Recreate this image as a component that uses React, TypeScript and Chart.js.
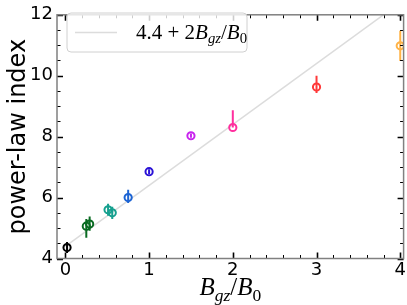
import { useEffect, useRef } from 'react';
import { Chart, registerables } from 'chart.js';
Chart.register(...registerables);

// ---- data ----
const bRatio = [0.02, 0.25, 0.29, 0.51, 0.56, 0.75, 1.0, 1.5, 2.0, 3.0, 4.0];
const powerIndex = [4.36, 5.06, 5.13, 5.6, 5.5, 6.0, 6.85, 8.03, 8.3, 9.63, 10.98];
const errLow = [0.18, 0.38, 0.22, 0.2, 0.2, 0.18, 0.08, 0.07, 0.0, 0.2, 0.5];
const errHigh = [0.18, 0.24, 0.25, 0.2, 0.2, 0.26, 0.08, 0.07, 0.57, 0.37, 0.5];
const pointColors = ['#000000', '#0a6b22', '#0a6b22', '#16a08f', '#16a08f', '#1c64d4', '#2a12d6', '#c824ee', '#ff2f9e', '#ff3a3a', '#ffb347'];
const fitX = [0, 4];
const fitY = [4.4, 12.4];
const xTickValues = [0, 1, 2, 3, 4];
const yTickValues = [4, 6, 8, 10, 12];
const xMinorStep = 0.2;
const yMinorStep = 0.5;

type Part = { t: string; it?: boolean; sub?: boolean };
const fitLabel: Part[] = [
  { t: '4.4' }, { t: ' + ' }, { t: '2' }, { t: 'B', it: true }, { t: 'gz', it: true, sub: true },
  { t: '/' }, { t: 'B', it: true }, { t: '0', sub: true },
];
const xTitle: Part[] = [
  { t: 'B', it: true }, { t: 'gz', it: true, sub: true }, { t: '/' }, { t: 'B', it: true }, { t: '0', sub: true },
];
const yTitle = 'power-law index';

const SERIF = '"Liberation Serif", "Times New Roman", serif';

function partFont(p: Part, size: number) {
  const s = p.sub ? size * 0.7 : size;
  return `${p.it ? 'italic ' : ''}${s}px ${SERIF}`;
}
function mathWidth(ctx: CanvasRenderingContext2D, parts: Part[], size: number) {
  let w = 0;
  for (const p of parts) { ctx.font = partFont(p, size); w += ctx.measureText(p.t).width; }
  return w;
}
function drawMath(ctx: CanvasRenderingContext2D, parts: Part[], x: number, y: number, size: number, align: 'left' | 'center') {
  let cx = align === 'center' ? x - mathWidth(ctx, parts, size) / 2 : x;
  ctx.textAlign = 'left';
  ctx.textBaseline = 'alphabetic';
  for (const p of parts) {
    ctx.font = partFont(p, size);
    ctx.fillText(p.t, cx, p.sub ? y + size * 0.22 : y);
    cx += ctx.measureText(p.t).width;
  }
}

const decorPlugin = {
  id: 'decor',
  afterDatasetsDraw(chart: any) {
    const { ctx, chartArea: a, scales } = chart;
    const xs = scales.x, ys = scales.y;
    ctx.save();
    ctx.beginPath();
    ctx.rect(a.left, a.top, a.right - a.left, a.bottom - a.top);
    ctx.clip();
    ctx.lineWidth = 2;
    for (let i = 0; i < bRatio.length; i++) {
      const px = xs.getPixelForValue(bRatio[i]);
      const y1 = ys.getPixelForValue(powerIndex[i] - errLow[i]);
      const y2 = ys.getPixelForValue(powerIndex[i] + errHigh[i]);
      ctx.strokeStyle = pointColors[i];
      ctx.beginPath();
      ctx.moveTo(px, y1);
      ctx.lineTo(px, y2);
      ctx.stroke();
    }
    ctx.restore();
  },
  afterDraw(chart: any) {
    const { ctx, chartArea: a, scales } = chart;
    const xs = scales.x, ys = scales.y;
    ctx.save();
    // ticks
    ctx.strokeStyle = '#000';
    ctx.lineWidth = 1;
    const major = 6, minor = 3.5;
    const tickX = (v: number, len: number) => {
      const p = Math.round(xs.getPixelForValue(v)) + 0.5;
      ctx.beginPath();
      ctx.moveTo(p, a.bottom); ctx.lineTo(p, a.bottom - len);
      ctx.moveTo(p, a.top); ctx.lineTo(p, a.top + len);
      ctx.stroke();
    };
    const tickY = (v: number, len: number) => {
      const p = Math.round(ys.getPixelForValue(v)) + 0.5;
      ctx.beginPath();
      ctx.moveTo(a.left, p); ctx.lineTo(a.left + len, p);
      ctx.moveTo(a.right, p); ctx.lineTo(a.right - len, p);
      ctx.stroke();
    };
    for (let v = Math.ceil(xs.min / xMinorStep) * xMinorStep; v <= xs.max + 1e-9; v += xMinorStep) {
      const r = Math.round(v * 1000) / 1000;
      if (xTickValues.some((t) => Math.abs(t - r) < 1e-6)) continue;
      tickX(r, minor);
    }
    for (let v = Math.ceil(ys.min / yMinorStep) * yMinorStep; v <= ys.max + 1e-9; v += yMinorStep) {
      const r = Math.round(v * 1000) / 1000;
      if (yTickValues.some((t) => Math.abs(t - r) < 1e-6)) continue;
      tickY(r, minor);
    }
    ctx.lineWidth = 1.6;
    xTickValues.forEach((v) => tickX(v, major));
    yTickValues.forEach((v) => tickY(v, major));
    // spines
    ctx.strokeStyle = '#808080';
    ctx.lineWidth = 1.5;
    ctx.strokeRect(a.left, a.top, a.right - a.left, a.bottom - a.top);

    // legend
    const lx = 67, ly = 13, lw = 180, lh = 39, r = 4;
    ctx.beginPath();
    ctx.moveTo(lx + r, ly);
    ctx.arcTo(lx + lw, ly, lx + lw, ly + lh, r);
    ctx.arcTo(lx + lw, ly + lh, lx, ly + lh, r);
    ctx.arcTo(lx, ly + lh, lx, ly, r);
    ctx.arcTo(lx, ly, lx + lw, ly, r);
    ctx.closePath();
    ctx.fillStyle = 'rgba(255,255,255,0.8)';
    ctx.fill();
    ctx.strokeStyle = '#d0d0d0';
    ctx.lineWidth = 1;
    ctx.stroke();
    ctx.strokeStyle = '#dcdcdc';
    ctx.lineWidth = 1.5;
    ctx.beginPath();
    ctx.moveTo(75, 32.5);
    ctx.lineTo(117, 32.5);
    ctx.stroke();
    ctx.fillStyle = '#000';
    drawMath(ctx, fitLabel, 136, 38.5, 21, 'left');

    // axis titles
    drawMath(ctx, xTitle, (a.left + a.right) / 2, 295, 25, 'center');
    ctx.save();
    ctx.translate(25, (a.top + a.bottom) / 2);
    ctx.rotate(-Math.PI / 2);
    ctx.font = '24px "DejaVu Sans"';
    ctx.textAlign = 'center';
    ctx.textBaseline = 'alphabetic';
    ctx.fillText(yTitle, 0, 0);
    ctx.restore();
    ctx.restore();
  },
};

export default function App() {
  const ref = useRef<HTMLCanvasElement | null>(null);
  useEffect(() => {
    if (!ref.current) return;
    const chart = new Chart(ref.current, {
      type: 'scatter',
      data: {
        datasets: [
          {
            type: 'scatter',
            data: bRatio.map((x, i) => ({ x, y: powerIndex[i] })),
            pointRadius: 3.6,
            pointBorderWidth: 2,
            pointBorderColor: pointColors,
            pointBackgroundColor: 'rgba(0,0,0,0)',
            order: 0,
          } as any,
          {
            type: 'line',
            data: fitX.map((x, i) => ({ x, y: fitY[i] })),
            borderColor: '#dcdcdc',
            borderWidth: 1.5,
            pointRadius: 0,
            order: 10,
          } as any,
        ],
      },
      options: {
        animation: false,
        responsive: true,
        maintainAspectRatio: false,
        layout: { padding: { top: 4, right: 3, left: 0, bottom: 0 }, autoPadding: false } as any,
        plugins: { legend: { display: false }, tooltip: { enabled: false } },
        scales: {
          x: {
            type: 'linear',
            min: -0.1,
            max: 4.04,
            afterFit: (s: any) => { s.height = 46.5; },
            afterBuildTicks: (s: any) => { s.ticks = xTickValues.map((v) => ({ value: v })); },
            grid: { display: false, drawTicks: false },
            border: { display: false },
            ticks: { font: { family: 'DejaVu Sans', size: 18 }, color: '#000', padding: 1, maxRotation: 0, autoSkip: false },
          },
          y: {
            type: 'linear',
            min: 4,
            max: 12,
            afterFit: (s: any) => { s.width = 57; },
            afterBuildTicks: (s: any) => { s.ticks = yTickValues.map((v) => ({ value: v })); },
            grid: { display: false, drawTicks: false },
            border: { display: false },
            ticks: { font: { family: 'DejaVu Sans', size: 18 }, color: '#000', padding: 4, autoSkip: false },
          },
        },
      },
      plugins: [decorPlugin],
    });
    return () => chart.destroy();
  }, []);
  return (
    <div style={{ position: 'absolute', left: 0, top: 0, width: 407, height: 305 }}>
      <canvas ref={ref} />
    </div>
  );
}
